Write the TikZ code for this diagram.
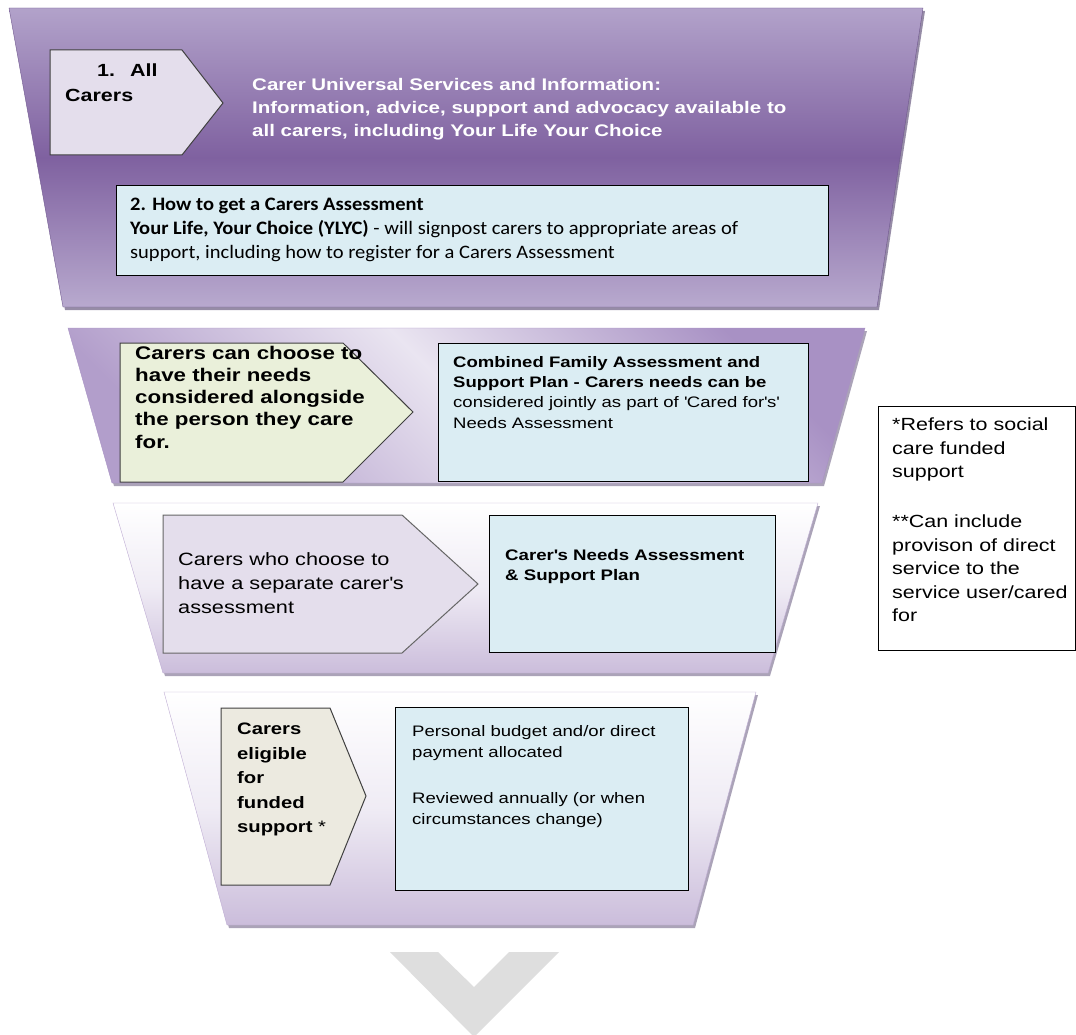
\documentclass[tikz,border=0pt]{standalone}
\usepackage{fontspec}
\setmainfont{Liberation Sans}[FakeStretch=1.22]
\newfontfamily\calibrifont{Carlito}[FakeStretch=1.08]
\usetikzlibrary{positioning}

\definecolor{plumlight}{RGB}{178,162,202}
\definecolor{plumdark}{RGB}{127,97,160}
\definecolor{plumedge}{RGB}{112,88,142}
\definecolor{lilac}{RGB}{234,229,241}
\definecolor{lilacdeep}{RGB}{168,145,196}
\definecolor{mist}{RGB}{203,189,219}
\definecolor{bandshadow}{RGB}{150,140,166}
\definecolor{iceblue}{RGB}{219,237,243}
\definecolor{taglilac}{RGB}{228,222,236}
\definecolor{taggreen}{RGB}{234,240,218}
\definecolor{tagsand}{RGB}{236,234,224}
\definecolor{chevgrey}{RGB}{222,222,222}

\begin{document}
\begin{tikzpicture}[x=1pt, y=-1pt,
  tag/.style={draw=black!75, line width=1pt},
  infobox/.style={rectangle, draw=black, line width=1.2pt, fill=iceblue, inner sep=0pt, anchor=north west},
  txt/.style={inner sep=0pt, anchor=north west, align=left}]
\useasboundingbox (0,0) rectangle (1076,1035);

% funnel bands
\fill[bandshadow] (11,11) -- (925,11) -- (879,310) -- (65,310) -- cycle;
\shadedraw[top color=plumlight, bottom color=plumlight!92!white, middle color=plumdark, draw=plumedge]
  (9,8) -- (923,8) -- (877,307) -- (63,307) -- cycle;
\fill[bandshadow!80] (70,331) -- (867,331) -- (824,486) -- (114,486) -- cycle;
\shadedraw[top color=lilacdeep, bottom color=lilacdeep!85!lilac, middle color=lilac, shading angle=-45, draw=lilacdeep]
  (68,328) -- (865,328) -- (822,483) -- (112,483) -- cycle;
\fill[bandshadow!80] (115,506) -- (820,506) -- (770,676) -- (165,676) -- cycle;
\shadedraw[top color=white, bottom color=mist, middle color=lilac!75!white, draw=lilacdeep!75]
  (113,503) -- (818,503) -- (768,673) -- (163,673) -- cycle;
\fill[bandshadow!80] (166,695) -- (758,695) -- (695,928) -- (229,928) -- cycle;
\shadedraw[top color=white, bottom color=mist, middle color=lilac!75!white, draw=lilacdeep!75]
  (164,692) -- (756,692) -- (693,925) -- (227,925) -- cycle;

% level 1
\filldraw[tag, fill=taglilac] (50,50) -- (182,50) -- (223,103) -- (182,155) -- (50,155) -- cycle;
\node[txt, font=\bfseries\fontsize{17.6}{25}\selectfont] (allcarers) at (65,64)
  {\hspace*{32pt}1.\hspace{15pt}All\\Carers};
\node[txt, text=white, font=\bfseries\fontsize{16.8}{23.3}\selectfont] (universal) at (252,78)
  {Carer Universal Services and Information:\\
   Information, advice, support and advocacy available to\\
   all carers, including Your Life Your Choice};
\node[infobox, minimum width=712pt, minimum height=90pt] (howto) at (116,185) {};
\node[txt, font=\calibrifont\fontsize{19}{24}\selectfont, below right=12.8pt and 14pt of howto.north west] (howtotext)
  {\textbf{2. How to get a Carers Assessment}\\
   \textbf{Your Life, Your Choice (YLYC)} - will signpost carers to appropriate areas of\\
   support, including how to register for a Carers Assessment};

% level 2
\filldraw[tag, fill=taggreen] (120,343) -- (343,343) -- (413,412) -- (343,482) -- (120,482) -- cycle;
\node[txt, font=\bfseries\fontsize{18.3}{22.3}\selectfont] (jointly) at (135,345.6)
  {Carers can choose to\\have their needs\\considered alongside\\the person they care\\for.};
\node[infobox, minimum width=370pt, minimum height=138pt] (combined) at (438,343) {};
\node[txt, font=\fontsize{15.2}{20.3}\selectfont, below right=12.9pt and 15pt of combined.north west] (combinedtext)
  {\textbf{Combined Family Assessment and}\\
   \textbf{Support Plan - Carers needs can be}\\
   considered jointly as part of \textquotesingle Cared for\textquotesingle s\textquotesingle\\
   Needs Assessment};

% level 3
\filldraw[tag, draw=black!60, fill=taglilac] (163,515) -- (402,515) -- (478,584) -- (402,653) -- (163,653) -- cycle;
\node[txt, font=\fontsize{17.8}{24}\selectfont] (separate) at (178,552)
  {Carers who choose to\\have a separate carer\textquotesingle s\\assessment};
\node[infobox, minimum width=286pt, minimum height=137pt] (needs) at (489,515) {};
\node[txt, font=\bfseries\fontsize{15.3}{20}\selectfont, below right=33.8pt and 16pt of needs.north west] (needstext)
  {Carer\textquotesingle s Needs Assessment\\\& Support Plan};

% level 4
\filldraw[tag, fill=tagsand] (221,708) -- (330,708) -- (366,796) -- (330,885) -- (221,885) -- cycle;
\node[txt, font=\bfseries\fontsize{16.6}{24.5}\selectfont] (eligible) at (237,723)
  {Carers\\eligible\\for\\funded\\support {\mdseries *}};
\node[infobox, minimum width=293pt, minimum height=183pt] (budget) at (395,707) {};
\node[txt, font=\fontsize{15.2}{21}\selectfont, below right=18pt and 17pt of budget.north west] (budgettext)
  {Personal budget and/or direct\\payment allocated\\[25pt]Reviewed annually (or when\\circumstances change)};

% notes
\node[rectangle, draw=black, line width=1pt, inner sep=0pt, anchor=north west,
  minimum width=197pt, minimum height=244pt] (notes) at (878,406) {};
\node[txt, font=\fontsize{17.6}{23.5}\selectfont, below right=12pt and 14pt of notes.north west] (notestext)
  {*Refers to social\\care funded\\support\\[26.5pt]**Can include\\provison of direct\\service to the\\service user/cared\\for};

% down chevron
\fill[chevgrey] (390,952) -- (438,952) -- (474,987) -- (509,952) -- (559,952) -- (474,1037) -- cycle;
\end{tikzpicture}
\end{document}
